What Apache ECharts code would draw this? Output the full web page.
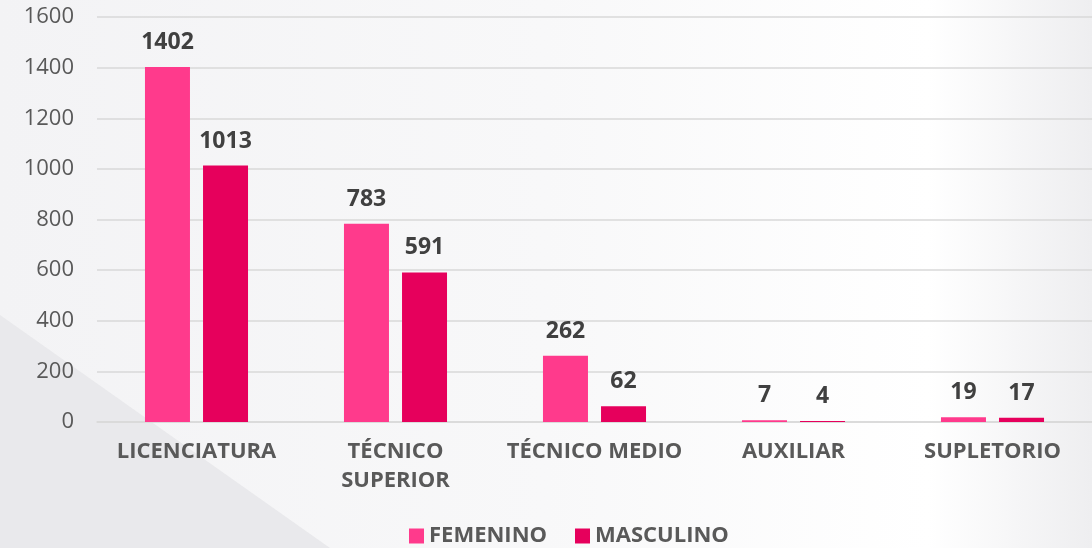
<!DOCTYPE html>
<html><head><meta charset="utf-8">
<script src="https://cdn.jsdelivr.net/npm/echarts@6/dist/echarts.min.js"></script>
<style>html,body{margin:0;padding:0;}#c{width:1092px;height:548px;}</style>
</head><body><div id="c"></div>
<script>
const categories = ['LICENCIATURA', 'TÉCNICO\nSUPERIOR', 'TÉCNICO MEDIO', 'AUXILIAR', 'SUPLETORIO'];
const femenino = [1402, 783, 262, 7, 19];
const masculino = [1013, 591, 62, 4, 17];
const yTicks = {min: 0, max: 1600, interval: 200};

const chart = echarts.init(document.getElementById('c'));
const font = "'Open Sans', 'Lato', sans-serif";
chart.setOption({
  backgroundColor: {
    type: 'linear', x: 0, y: 0, x2: 1, y2: 0,
    colorStops: [{offset: 0, color: '#f3f3f5'}, {offset: 0.5, color: '#f8f8f9'}, {offset: 0.85, color: '#ffffff'}, {offset: 1, color: '#eeeef0'}]
  },
  graphic: [{
    type: 'polygon', silent: true, z: -10,
    shape: {points: [[0, 315], [0, 548], [330, 548]]},
    style: {fill: '#e9e9ec'}
  }],
  textStyle: {fontFamily: font},
  grid: {left: 97, right: -3, top: 17, bottom: 126, containLabel: false},
  legend: {
    top: 520, left: 404,
    itemWidth: 15, itemHeight: 15, itemGap: 28, icon: 'rect',
    textStyle: {fontSize: 22, fontWeight: 'bold', color: '#595959', fontFamily: font},
    data: ['FEMENINO', 'MASCULINO']
  },
  xAxis: {
    type: 'category', data: categories,
    axisLine: {show: true, lineStyle: {color: '#d9d9d9', width: 1.5}},
    axisTick: {show: false},
    axisLabel: {fontSize: 22, fontWeight: 'bold', color: '#595959', margin: 15, lineHeight: 29, fontFamily: font, interval: 0}
  },
  yAxis: {
    type: 'value', min: yTicks.min, max: yTicks.max, interval: yTicks.interval,
    axisLine: {show: false}, axisTick: {show: false},
    splitLine: {lineStyle: {color: '#d9d9d9', width: 1.5}},
    axisLabel: {fontSize: 22, color: '#595959', margin: 23, fontFamily: font, formatter: v => String(v)}
  },
  series: [
    {name: 'FEMENINO', type: 'bar', data: femenino, barWidth: 45, barGap: '29%',
     itemStyle: {color: '#ff3a8c'},
     label: {show: true, position: 'top', distance: 13, fontSize: 23, fontWeight: 'bold', color: '#404040', fontFamily: font}},
    {name: 'MASCULINO', type: 'bar', data: masculino, barWidth: 45,
     itemStyle: {color: '#e6005c'},
     label: {show: true, position: 'top', distance: 13, fontSize: 23, fontWeight: 'bold', color: '#404040', fontFamily: font}}
  ]
});
</script></body></html>
